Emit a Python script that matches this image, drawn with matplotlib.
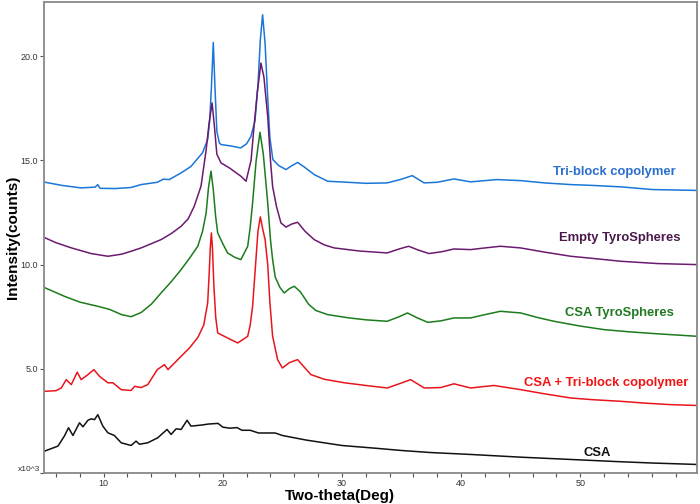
import matplotlib
matplotlib.use("Agg")
import matplotlib.pyplot as plt
from matplotlib.ticker import MultipleLocator, FormatStrFormatter, FuncFormatter

plt.rcParams['font.family'] = ['Liberation Sans', 'DejaVu Sans']

# ---- data ----
tri_x = [5.1, 6.5, 8.1, 9.3, 9.5, 9.7, 11.0, 12.3, 13.14, 14.5, 15.0, 15.5, 16.5, 17.33, 18.3,
         18.73, 18.9, 19.05, 19.2, 19.35, 19.5, 19.7, 19.85, 20.6, 21.5, 22.0, 22.36, 22.7, 22.95,
         23.15, 23.34, 23.55, 23.75, 23.95, 24.2, 24.7, 25.3, 25.8, 26.28, 26.8, 27.67, 28.8, 30.5,
         32.0, 33.8, 35.0, 35.9, 36.9, 38.0, 39.4, 40.8, 43.0, 45.0, 47.0, 49.2, 51.0, 53.4, 56.1, 59.8]
tri_y = [13.95, 13.8, 13.68, 13.72, 13.84, 13.66, 13.65, 13.7, 13.84, 13.95, 14.1, 14.08, 14.4, 14.71, 15.37,
         16.0, 16.9, 18.6, 20.66, 18.4, 16.4, 15.85, 15.76, 15.7, 15.6, 15.8, 16.15, 16.9, 18.6,
         20.8, 21.99, 20.6, 18.2, 16.1, 15.04, 14.75, 14.56, 14.75, 14.9, 14.7, 14.32, 14.0, 13.95,
         13.9, 13.92, 14.1, 14.27, 13.92, 13.95, 14.11, 13.97, 14.08, 14.03, 13.92, 13.84, 13.8, 13.73, 13.6, 13.56]

empty_x = [5.1, 6.0, 7.3, 8.95, 10.35, 11.5, 12.3, 13.14, 14.82, 15.7, 16.5, 17.1, 17.6, 18.17, 18.6,
           18.85, 19.1, 19.3, 19.5, 19.85, 20.55, 21.52, 21.95, 22.37, 22.6, 22.9, 23.2, 23.45, 23.77,
           24.0, 24.18, 24.5, 24.88, 25.3, 25.8, 26.28, 26.9, 27.67, 28.5, 29.35, 31.5, 33.8, 34.8,
           35.6, 36.4, 37.3, 38.4, 39.4, 40.8, 42.0, 43.3, 45.0, 47.0, 49.2, 51.0, 53.4, 56.5, 59.8]
empty_y = [11.28, 11.05, 10.8, 10.53, 10.4, 10.5, 10.64, 10.8, 11.2, 11.5, 11.84, 12.2, 12.8, 13.76, 15.5,
           16.8, 17.76, 16.6, 15.3, 14.88, 14.64, 14.24, 14.0, 15.0, 16.5, 18.3, 19.67, 19.0, 17.1,
           15.0, 13.75, 12.8, 12.0, 11.8, 11.95, 12.03, 11.6, 11.2, 10.95, 10.8, 10.65, 10.56, 10.75,
           10.88, 10.7, 10.53, 10.62, 10.75, 10.72, 10.8, 10.88, 10.8, 10.6, 10.4, 10.3, 10.16, 10.05, 10.0]

csat_x = [5.1, 6.7, 8.0, 9.5, 10.5, 11.5, 12.3, 13.14, 14.0, 14.82, 15.7, 16.5, 17.2, 17.9, 18.3,
          18.6, 18.8, 19.01, 19.2, 19.4, 19.57, 20.0, 20.4, 21.0, 21.52, 22.09, 22.3, 22.5, 22.8,
          23.12, 23.4, 23.77, 24.0, 24.18, 24.4, 24.8, 25.15, 25.6, 26.0, 26.5, 27.2, 27.8, 28.8,
          30.5, 32.0, 33.8, 34.8, 35.5, 36.3, 37.2, 38.3, 39.4, 40.8, 42.0, 43.3, 45.0, 46.5, 47.8,
          50.0, 52.0, 54.0, 56.2, 59.8]
csat_y = [8.88, 8.48, 8.2, 8.0, 7.85, 7.6, 7.5, 7.7, 8.1, 8.64, 9.2, 9.76, 10.3, 10.88, 11.6,
          12.48, 13.7, 14.48, 13.6, 12.3, 11.52, 11.0, 10.56, 10.35, 10.24, 10.88, 11.8, 12.96, 15.0,
          16.35, 15.3, 12.96, 11.2, 10.24, 9.4, 8.9, 8.64, 8.85, 8.96, 8.7, 8.1, 7.8, 7.6,
          7.45, 7.35, 7.28, 7.5, 7.68, 7.45, 7.23, 7.3, 7.44, 7.44, 7.6, 7.76, 7.68, 7.45, 7.28,
          7.05, 6.88, 6.78, 6.69, 6.56]

mix_x = [5.04, 6.0, 6.44, 6.86, 7.28, 7.78, 8.11, 8.68, 9.18, 9.65, 10.35, 10.77, 11.47, 12.3, 12.6,
         13.14, 13.7, 14.5, 15.1, 15.4, 16.5, 17.2, 17.9, 18.4, 18.73, 18.85, 18.95, 19.04, 19.13,
         19.25, 19.4, 19.57, 20.4, 21.25, 22.09, 22.3, 22.5, 22.75, 22.95, 23.15, 23.35, 23.55, 23.77,
         23.95, 24.18, 24.6, 25.0, 25.6, 26.28, 26.8, 27.4, 28.5, 30.2, 32.0, 33.8, 34.9, 35.77,
         36.9, 38.3, 39.4, 40.8, 42.76, 45.0, 47.0, 49.2, 51.0, 53.4, 55.5, 57.6, 59.8]
mix_y = [3.92, 3.95, 4.08, 4.48, 4.24, 4.84, 4.48, 4.72, 4.96, 4.64, 4.33, 4.33, 4.0, 3.96, 4.16,
         4.1, 4.24, 4.96, 5.2, 4.96, 5.6, 6.0, 6.5, 7.1, 8.16, 9.5, 10.8, 11.52, 10.8,
         9.0, 7.5, 6.72, 6.48, 6.24, 6.56, 7.1, 8.0, 10.0, 11.6, 12.29, 11.7, 11.2, 10.0,
         8.2, 6.56, 5.44, 5.04, 5.3, 5.44, 5.1, 4.72, 4.5, 4.33, 4.2, 4.08, 4.3, 4.48,
         4.08, 4.1, 4.28, 4.08, 4.2, 4.0, 3.8, 3.6, 3.52, 3.44, 3.35, 3.28, 3.24]

csa_x = [5.04, 6.16, 6.7, 7.05, 7.42, 7.97, 8.26, 8.68, 8.95, 9.23, 9.51, 9.93, 10.35, 10.9, 11.47,
         12.3, 12.72, 13.0, 13.7, 14.54, 15.32, 15.66, 16.08, 16.5, 17.0, 17.33, 18.2, 18.8, 19.6,
         20.0, 20.6, 21.2, 21.6, 22.3, 23.0, 24.4, 25.0, 27.0, 30.0, 33.0, 35.0, 37.5, 40.8, 45.0,
         49.2, 53.0, 56.0, 59.8]
csa_y = [1.05, 1.29, 1.77, 2.17, 1.8, 2.41, 2.22, 2.53, 2.6, 2.56, 2.8, 2.25, 1.93, 1.8, 1.45,
         1.32, 1.53, 1.38, 1.45, 1.69, 2.09, 1.85, 2.12, 2.09, 2.53, 2.25, 2.3, 2.35, 2.38,
         2.2, 2.15, 2.18, 2.05, 2.05, 1.92, 1.92, 1.8, 1.58, 1.32, 1.18, 1.08, 0.98, 0.89, 0.76,
         0.65, 0.55, 0.48, 0.41]

labels = ["Tri-block copolymer", "Empty TyroSpheres", "CSA TyroSpheres",
          "CSA + Tri-block copolymer", "CSA"]
label_x = [52.9, 53.3, 53.3, 52.15, 51.4]
label_y = [14.45, 11.3, 7.7, 4.3, 0.95]

# ---- figure ----
fig = plt.figure(figsize=(7.0, 5.04), dpi=100)
ax = fig.add_axes([0.063, 0.0615, 0.9327, 0.9345])

series = [(tri_x, tri_y, '#1a76d8', '#2a6fd0'),
          (empty_x, empty_y, '#6c1a70', '#4a1a4c'),
          (csat_x, csat_y, '#1c7c1c', '#217a21'),
          (mix_x, mix_y, '#e8161c', '#f01414'),
          (csa_x, csa_y, '#111111', '#111111')]

for (xs, ys, lc, tc), lab, lx, ly in zip(series, labels, label_x, label_y):
    ax.plot(xs, ys, color=lc, lw=1.1)
    ax.text(lx, ly, lab, color=tc, fontsize=9.4, fontweight='bold', ha='center', va='center')

ax.set_xlim(5.0, 59.8)
ax.set_ylim(0, 22.6)

ax.xaxis.set_major_locator(MultipleLocator(10))
ax.xaxis.set_minor_locator(MultipleLocator(2))
ax.xaxis.set_major_formatter(FormatStrFormatter('%d'))
ax.yaxis.set_major_locator(MultipleLocator(5))
ax.yaxis.set_major_formatter(FuncFormatter(lambda v, p: '' if v == 0 else '%.1f' % v))

ax.tick_params(axis='both', which='both', direction='out', length=3, width=0.8,
               colors='#555555', labelsize=6.5, labelcolor='#333333', pad=1.5)

for s in ax.spines.values():
    s.set_color('#888888')
    s.set_linewidth(1.3)

ax.set_xlabel('Two-theta(Deg)', fontsize=11, fontweight='bold')
ax.xaxis.set_label_coords(0.453, -0.033)
ax.set_ylabel('Intensity(counts)', fontsize=11, fontweight='bold')
ax.yaxis.set_label_coords(-0.037, 0.5)

fig.text(0.058, 0.069, 'x10^3', fontsize=6, color='#333333', ha='right', va='center')

fig.savefig('out.png', dpi=100)
